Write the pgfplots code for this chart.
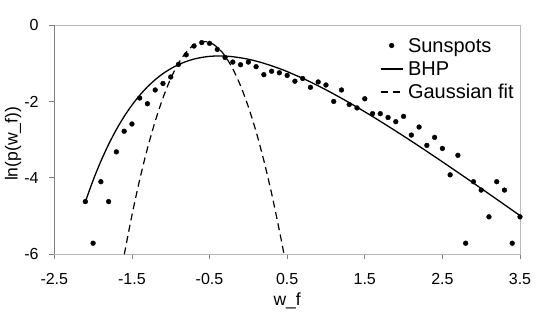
\documentclass[border=0pt]{standalone}
\usepackage{fontspec}
\setmainfont{Liberation Sans}
\usepackage{pgfplots}
\pgfplotsset{compat=1.18}

\pgfplotstableread{
x y
-2.1 -4.62
-2.0 -5.71
-1.9 -4.10
-1.8 -4.62
-1.7 -3.32
-1.6 -2.78
-1.5 -2.59
-1.4 -1.91
-1.3 -2.06
-1.2 -1.70
-1.1 -1.53
-1.0 -1.36
-0.9 -1.03
-0.8 -0.78
-0.7 -0.55
-0.6 -0.46
-0.5 -0.48
-0.4 -0.64
-0.3 -0.85
-0.2 -0.97
-0.1 -1.04
0.0 -0.97
0.1 -1.09
0.2 -1.30
0.3 -1.21
0.4 -1.25
0.5 -1.32
0.6 -1.47
0.7 -1.40
0.8 -1.63
0.9 -1.49
1.0 -1.57
1.1 -2.00
1.2 -1.70
1.3 -2.08
1.4 -2.17
1.5 -1.93
1.6 -2.32
1.7 -2.32
1.8 -2.42
1.9 -2.53
2.0 -2.39
2.1 -2.88
2.2 -2.67
2.3 -3.15
2.4 -2.94
2.5 -3.23
2.6 -3.92
2.7 -3.41
2.8 -5.71
2.9 -4.10
3.0 -4.32
3.1 -5.02
3.2 -4.10
3.3 -4.32
3.4 -5.71
3.5 -5.02
}\sunspots

\pgfplotstableread{
x y
-2.1 -4.625
-2.0 -4.063
-1.9 -3.564
-1.8 -3.123
-1.7 -2.734
-1.6 -2.394
-1.5 -2.097
-1.4 -1.840
-1.3 -1.619
-1.2 -1.431
-1.1 -1.273
-1.0 -1.143
-0.9 -1.037
-0.8 -0.954
-0.7 -0.891
-0.6 -0.848
-0.5 -0.821
-0.4 -0.810
-0.3 -0.814
-0.2 -0.830
-0.1 -0.858
0.0 -0.896
0.1 -0.944
0.2 -1.002
0.3 -1.067
0.4 -1.139
0.5 -1.219
0.75 -1.442
1.0 -1.696
1.25 -1.974
1.5 -2.271
1.75 -2.583
2.0 -2.906
2.25 -3.239
2.5 -3.580
2.75 -3.926
3.0 -4.277
3.25 -4.631
3.5 -4.988
}\bhp

\pgfplotstableread{
x y
-1.598 -6.00
-1.5 -4.98
-1.4 -4.05
-1.3 -3.23
-1.2 -2.52
-1.1 -1.91
-1.0 -1.40
-0.9 -1.00
-0.8 -0.71
-0.7 -0.52
-0.6 -0.435
-0.5 -0.456
-0.4 -0.58
-0.3 -0.81
-0.2 -1.15
-0.1 -1.59
0.0 -2.14
0.1 -2.79
0.2 -3.55
0.3 -4.41
0.4 -5.38
0.46 -6.00
}\gauss

\begin{document}
\begin{tikzpicture}
\begin{axis}[
  at={(0pt,0pt)}, anchor=south west,
  scale only axis, width=465.7pt, height=229.3pt,
  xmin=-2.5, xmax=3.5, ymin=-6, ymax=0,
  xtick={-2.5,-1.5,...,3.5},
  xticklabels={-2.5,-1.5,-0.5,0.5,1.5,2.5,3.5},
  ytick={-6,-4,-2,0},
  yticklabels={-6,-4,-2,0},
  tick align=outside, xtick pos=left, ytick pos=left,
  major tick length=5pt,
  tick style={gray, line width=0.8pt},
  axis line style={draw=gray!55, line width=1pt},
  ticklabel style={font=\fontsize{16}{19}\selectfont},
  xticklabel style={anchor=base, inner sep=0pt, yshift=-25pt},
  yticklabel style={anchor=east, inner sep=0pt, xshift=-10.5pt},
  xlabel={w\_f}, ylabel={ln(p(w\_f))},
  every axis x label/.style={at={(axis description cs:0.5,0)}, anchor=base,
    yshift=-51.4pt, font=\fontsize{17.5}{20}\selectfont},
  every axis y label/.style={at={(axis description cs:-0.0887,0.481)}, rotate=90,
    anchor=center, font=\fontsize{17.5}{20}\selectfont},
  legend style={draw=none, fill=none, at={(axis description cs:0.699,0.9446)},
    anchor=north west, inner sep=0pt, row sep=3.9pt, column sep=4.7pt,
    font=\fontsize{20}{24}\selectfont,
    nodes={inner sep=0pt, text height=15pt, text depth=4pt}},
  legend cell align=left,
  clip=true,
]
\addplot[only marks, mark=*, mark size=2.4pt, black,
  legend image code/.code={\fill[black] (11pt,1.9pt) circle (2.4pt);}]
  table {\sunspots};
\addlegendentry{Sunspots}
\addplot[black, line width=1.3pt, smooth,
  legend image code/.code={\draw[black, line width=1.3pt] (0pt,1.2pt) -- (22pt,1.2pt);}]
  table {\bhp};
\addlegendentry{BHP}
\addplot[black, line width=1.2pt, smooth, dash pattern=on 7pt off 4.5pt,
  legend image code/.code={\draw[black, line width=1.2pt, dash pattern=on 7pt off 5pt] (0pt,1.2pt) -- (22pt,1.2pt);}]
  table {\gauss};
\addlegendentry{Gaussian fit}
\end{axis}
\draw[gray, line width=1pt] (0pt,0pt) -- (0pt,229.3pt);
\pgfresetboundingbox
\path[use as bounding box] (-54.3pt,-69.7pt) rectangle (490.7pt,254.3pt);
\end{tikzpicture}
\end{document}
